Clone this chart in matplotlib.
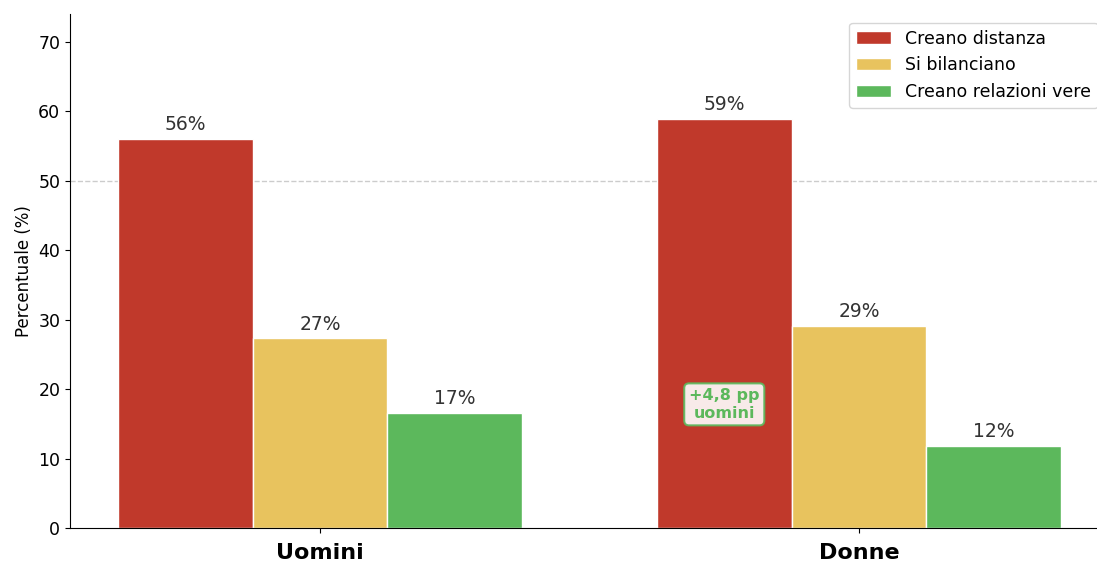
import matplotlib.pyplot as plt
plt.switch_backend('agg')
import numpy as np

groups = ['Uomini', 'Donne']
series = ['Creano distanza', 'Si bilanciano', 'Creano relazioni vere']
distanza = [56.0, 58.9]
bilanciano = [27.3, 29.1]
relazioni = [16.6, 11.8]
colors = ['#c0392b', '#e8c35e', '#5cb85c']

fig = plt.figure(figsize=(10.97, 5.63), dpi=100)
ax = fig.add_axes([70 / 1097, 35 / 563, 1027 / 1097, 514 / 563])

x = np.arange(len(groups))
width = 0.25
for i, (vals, name) in enumerate(zip([distanza, bilanciano, relazioni], series)):
    bars = ax.bar(x + (i - 1) * width, vals, width, label=name,
                  color=colors[i], edgecolor='white', linewidth=1)
    for b, v in zip(bars, vals):
        ax.text(b.get_x() + b.get_width() / 2, v + 0.7, '{:.0f}%'.format(v),
                ha='center', va='bottom', fontsize=13.5, color='#333333')

ax.axhline(50, color='#cccccc', linestyle='--', linewidth=1, zorder=0)

# gap in "creano relazioni vere" between men and women
gap = relazioni[0] - relazioni[1]
ax.text(x[1] - width, 17.8, '+{:.1f} pp\nuomini'.format(gap).replace('.', ','),
        ha='center', va='center', fontsize=11.5, fontweight='bold', color='#5cb85c',
        bbox=dict(boxstyle='round,pad=0.3', facecolor='white', alpha=0.9,
                  edgecolor='#5cb85c', linewidth=1.5))

ax.set_xticks(x)
ax.set_xticklabels(groups, fontsize=16, fontweight='bold')
ax.tick_params(axis='x', pad=7)
ax.tick_params(axis='y', labelsize=12.5)
ax.set_ylabel('Percentuale (%)', fontsize=12)
ax.set_ylim(0, 74)
ax.set_xlim(-0.4638, 1.4415)
ax.spines['top'].set_visible(False)
ax.spines['right'].set_visible(False)
ax.legend(loc='upper right', fontsize=12.5, bbox_to_anchor=(1.009, 1.0))

plt.savefig('out.png', dpi=100)
